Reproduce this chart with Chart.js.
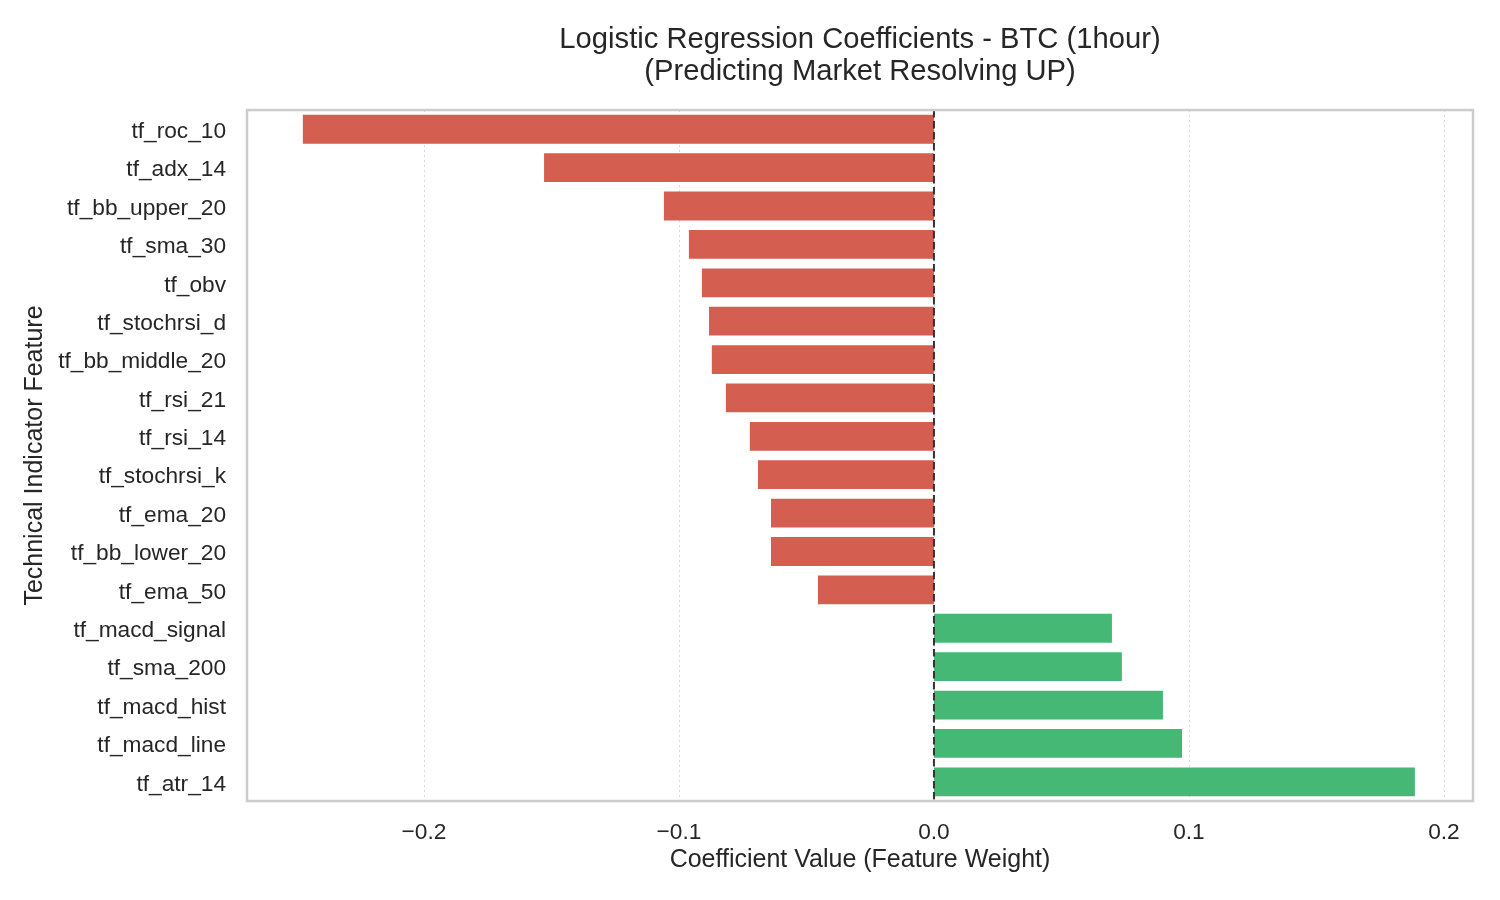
<!DOCTYPE html>
<html>
<head>
<meta charset="utf-8">
<title>Logistic Regression Coefficients - BTC (1hour)</title>
<script src="https://cdn.jsdelivr.net/npm/chart.js@4.4.1/dist/chart.umd.min.js"></script>
<style>
    html, body { margin: 0; padding: 0; background: #ffffff; }
    #wrap { width: 1500px; height: 900px; position: relative; }
</style>
</head>
<body>
<div id="wrap"><canvas id="coefChart"></canvas></div>
<script>
// Признаки (сверху вниз)
const features = [
    'tf_roc_10', 'tf_adx_14', 'tf_bb_upper_20', 'tf_sma_30', 'tf_obv',
    'tf_stochrsi_d', 'tf_bb_middle_20', 'tf_rsi_21', 'tf_rsi_14', 'tf_stochrsi_k',
    'tf_ema_20', 'tf_bb_lower_20', 'tf_ema_50', 'tf_macd_signal', 'tf_sma_200',
    'tf_macd_hist', 'tf_macd_line', 'tf_atr_14'
];

// Коэффициенты модели
const coefficients = [
    -0.2475, -0.1529, -0.1059, -0.0961, -0.0910,
    -0.0882, -0.0871, -0.0816, -0.0722, -0.0690,
    -0.0639, -0.0639, -0.0455, 0.0698, 0.0737,
    0.0898, 0.0973, 0.1886
];

// Деления оси X
const xTickValues = [-0.2, -0.1, 0.0, 0.1, 0.2];
const xTickLabels = ['\u22120.2', '\u22120.1', '0.0', '0.1', '0.2'];
const xRange = [-0.2694, 0.2114];

const negColor = '#d45e50';
const posColor = '#44b874';
const textColor = '#262626';
const fontFamily = '"Liberation Sans", Arial, Helvetica, sans-serif';

// Рамка вокруг области графика и пунктир на нуле
const framePlugin = {
    id: 'frame',
    beforeDatasetsDraw(chart) {
        const xs = chart.scales.x;
        const area = chart.chartArea;
        const ctx = chart.ctx;
        ctx.save();
        ctx.strokeStyle = '#d9d9d9';
        ctx.lineWidth = 1;
        ctx.setLineDash([2, 3]);
        xTickValues.forEach(v => {
            const px = Math.round(xs.getPixelForValue(v)) + 0.5;
            ctx.beginPath();
            ctx.moveTo(px, area.top);
            ctx.lineTo(px, area.bottom);
            ctx.stroke();
        });
        ctx.restore();
    },
    afterDatasetsDraw(chart) {
        const xs = chart.scales.x;
        const area = chart.chartArea;
        const ctx = chart.ctx;
        ctx.save();
        // нулевая линия
        const zx = xs.getPixelForValue(0);
        ctx.strokeStyle = '#333333';
        ctx.lineWidth = 2;
        ctx.setLineDash([7.5, 3.5]);
        ctx.beginPath();
        ctx.moveTo(zx, area.top);
        ctx.lineTo(zx, area.bottom);
        ctx.stroke();
        // рамка
        ctx.setLineDash([]);
        ctx.strokeStyle = '#cccccc';
        ctx.lineWidth = 2.5;
        ctx.strokeRect(area.left, area.top, area.right - area.left, area.bottom - area.top);
        ctx.restore();
    }
};

const ctx = document.getElementById('coefChart');
new Chart(ctx, {
    type: 'bar',
    data: {
        labels: features,
        datasets: [{
            data: coefficients,
            backgroundColor: coefficients.map(v => v < 0 ? negColor : posColor),
            borderWidth: 0,
            barPercentage: 0.75,
            categoryPercentage: 1.0
        }]
    },
    options: {
        indexAxis: 'y',
        responsive: true,
        maintainAspectRatio: false,
        animation: false,
        layout: { padding: { left: 0, right: 27, top: 0, bottom: 0 } },
        plugins: {
            legend: { display: false },
            tooltip: { enabled: false },
            title: {
                display: true,
                fullSize: false,
                text: ['Logistic Regression Coefficients - BTC (1hour)', '(Predicting Market Resolving UP)'],
                color: textColor,
                font: { family: fontFamily, size: 29.2, weight: 'normal', lineHeight: 1.1 },
                padding: { top: 24, bottom: 21.8 }
            }
        },
        scales: {
            x: {
                type: 'linear',
                min: xRange[0],
                max: xRange[1],
                afterBuildTicks(scale) {
                    scale.ticks = xTickValues.map(v => ({ value: v }));
                },
                afterFit(scale) { scale.height = 99; },
                grid: { display: false, drawTicks: false },
                border: { display: false },
                ticks: {
                    color: textColor,
                    font: { family: fontFamily, size: 22.7 },
                    padding: 18,
                    maxRotation: 0,
                    autoSkip: false,
                    callback: function(value) {
                        const i = xTickValues.findIndex(t => Math.abs(t - value) < 1e-9);
                        return i >= 0 ? xTickLabels[i] : '';
                    }
                },
                title: {
                    display: true,
                    text: 'Coefficient Value (Feature Weight)',
                    color: textColor,
                    font: { family: fontFamily, size: 25 },
                    padding: { top: 0, bottom: 25 }
                }
            },
            y: {
                type: 'category',
                afterFit(scale) { scale.width = 247; },
                grid: { display: false, drawTicks: false },
                border: { display: false },
                ticks: {
                    color: textColor,
                    font: { family: fontFamily, size: 22.7 },
                    padding: 21,
                    labelOffset: 2.5,
                    autoSkip: false
                },
                title: {
                    display: true,
                    text: 'Technical Indicator Feature',
                    color: textColor,
                    font: { family: fontFamily, size: 25 },
                    padding: { top: 20, bottom: 0 }
                }
            }
        }
    },
    plugins: [framePlugin]
});
</script>
</body>
</html>
